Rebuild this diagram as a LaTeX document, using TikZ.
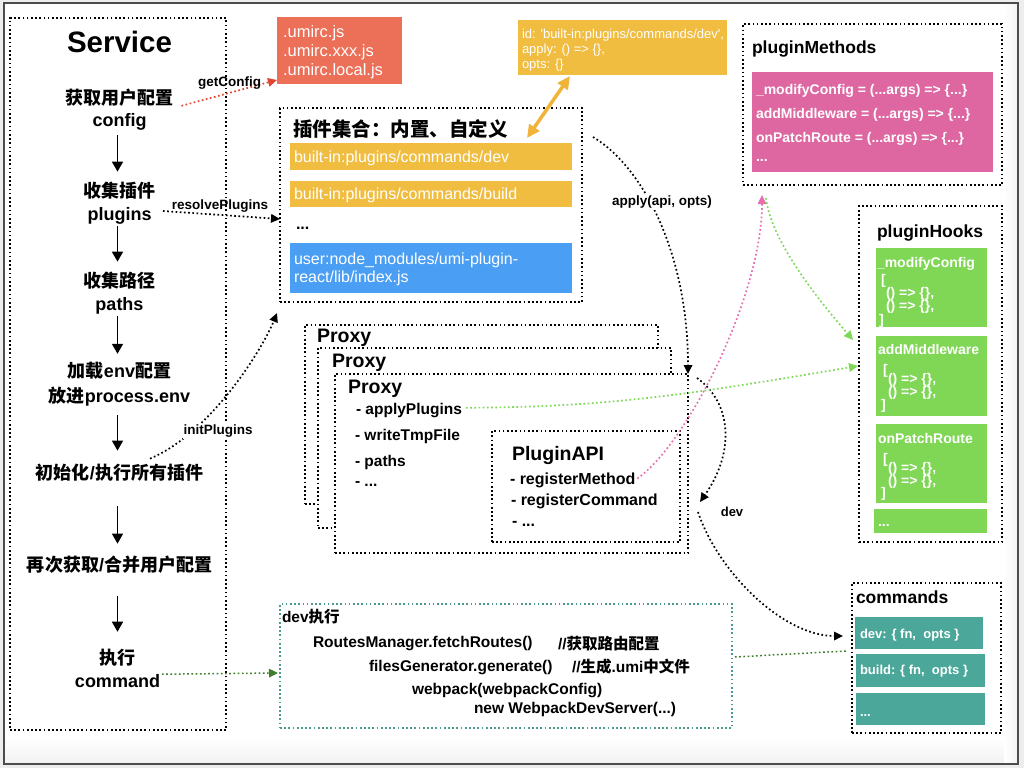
\documentclass[tikz,border=0pt]{standalone}
\usepackage{fontspec}
\setmainfont{Liberation Sans}
\newfontfamily\cjk{Noto Sans CJK SC}
\usetikzlibrary{arrows.meta}
\newcommand{\zh}[1]{{\cjk #1}}
\newcommand{\fsz}[2]{\fontsize{#1pt}{#2pt}\selectfont}
\definecolor{cRed}{HTML}{EC6F58}
\definecolor{cRedLine}{HTML}{E2452F}
\definecolor{cYel}{HTML}{F0BD40}
\definecolor{cYelLine}{HTML}{F0B43A}
\definecolor{cBlue}{HTML}{4A9FF4}
\definecolor{cPink}{HTML}{DE67A2}
\definecolor{cPinkLine}{HTML}{E86FAF}
\definecolor{cGreen}{HTML}{80D655}
\definecolor{cGreenLine}{HTML}{7ED957}
\definecolor{cTeal}{HTML}{4BA79A}
\definecolor{cTealLine}{HTML}{4A9A90}
\definecolor{cDkGreen}{HTML}{3F7D2C}
\begin{document}
\begin{tikzpicture}[x=1pt,y=-1pt,
  every node/.style={inner sep=0pt,outer sep=0pt},
  dotline/.style={line width=1.7pt,dash pattern=on 1.7pt off 2.5pt},
  dotbox/.style={draw,dotline,anchor=north west},
  fillbox/.style={anchor=north west,draw=none},
  arrtip/.style={-{Triangle[length=9pt,width=8.5pt]}},
  flow/.style={line width=1.6pt,-{Triangle[length=10pt,width=11pt]}},
  lbl/.style={anchor=mid,yshift=-3pt,font=\bfseries\fsz{18}{21}},
  tx/.style={anchor=mid west,yshift=-3pt},
  wt/.style={anchor=mid west,yshift=-3pt,text=white},
  conlbl/.style={anchor=mid,yshift=-3pt,font=\bfseries\fsz{13.5}{16}},
  hookfont/.style={wt,font=\bfseries\fsz{14}{16}},
  cmdfont/.style={wt,font=\bfseries\fsz{13}{15}},
  methfont/.style={wt,font=\bfseries\fsz{14}{16}},
  proxyfont/.style={tx,font=\bfseries\fsz{19.5}{22}},
  pitem/.style={tx,font=\bfseries\fsz{15.5}{18}},
  devfont/.style={tx,font=\bfseries\fsz{15.5}{18}},
  ttl/.style={tx,font=\bfseries\fsz{17.5}{20}},
]
\useasboundingbox (0,0) rectangle (1024,768);
% window background
\fill[gray!14] (0,0) rectangle (1024,768);
\fill[white] (4,3) rectangle (1018,764);
\shade[top color=white,bottom color=gray!10] (5,738) rectangle (1017,763);
\shade[left color=white,right color=gray!10] (1004,4) rectangle (1017,763);
\draw[gray!60!black,line width=1.2pt] (4,3) rectangle (1018,764);

% ---------------- Service column
\node[dotbox,minimum width=216,minimum height=712] (service) at (10,18) {};
\node[anchor=mid,font=\bfseries\fsz{29.5}{30}] (svcT) at (119.5,50) {Service};
\node[lbl] (cfgA) at (119.5,99) {\zh{获取用户配置}};
\node[lbl] (cfgB) at (119.5,120.5) {config};
\node[lbl] (plgA) at (119.5,191.5) {\zh{收集插件}};
\node[lbl] (plgB) at (119.5,214.5) {plugins};
\node[lbl] (pthA) at (119.5,281.5) {\zh{收集路径}};
\node[lbl] (pthB) at (119.5,304.5) {paths};
\node[lbl] (envA) at (119.5,371.5) {\zh{加载}env\zh{配置}};
\node[lbl] (envB) at (119.5,396.4) {\zh{放进}process.env};
\node[lbl] (init) at (119.5,473.5) {\zh{初始化}/\zh{执行所有插件}};
\node[lbl] (again) at (119.5,565.5) {\zh{再次获取}/\zh{合并用户配置}};
\node[lbl] (execA) at (117.5,659) {\zh{执行}};
\node[lbl] (execB) at (117.5,681.5) {command};

\draw[flow] ([yshift=-5pt]cfgB.south -| 117.5,0) -- ([yshift=10pt]plgA.north -| 117.5,0);
\draw[flow] ([yshift=-2pt]plgB.south -| 117.5,0) -- ([yshift=10pt]pthA.north -| 117.5,0);
\draw[flow] ([yshift=-2pt]pthB.south -| 117.5,0) -- ([yshift=8pt]envA.north -| 117.5,0);
\draw[flow] ([yshift=-9pt]envB.south -| 117.5,0) -- ([yshift=13pt]init.north -| 117.5,0);
\draw[flow] ([yshift=-25pt]init.south -| 117.5,0) -- ([yshift=12pt]again.north -| 117.5,0);
\draw[flow] ([yshift=-22.5pt]again.south -| 117.5,0) -- ([yshift=17.5pt]execA.north -| 117.5,0);

% ---------------- umirc
\node[fillbox,fill=cRed,minimum width=125,minimum height=67] (umirc) at (277,17) {};
\node[wt,font=\fsz{16.5}{18}] (u1) at (283,32) {.umirc.js};
\node[wt,font=\fsz{16.5}{18}] (u2) at (283,50.5) {.umirc.xxx.js};
\node[wt,font=\fsz{16.5}{18}] (u3) at (283,70) {.umirc.local.js};

% ---------------- plugin object
\node[fillbox,fill=cYel,minimum width=209,minimum height=55] (idbox) at (518,20) {};
\node[wt,font=\fsz{13}{15}] (id1) at (522,33) {id: \textquotesingle built-in:plugins/commands/dev\textquotesingle,};
\node[wt,font=\fsz{13}{15}] (id2) at (522,47.5) {apply: () => \{\},};
\node[wt,font=\fsz{13}{15}] (id3) at (522,63) {opts: \{\}};

% ---------------- plugin set
\node[dotbox,minimum width=302,minimum height=194] (plugset) at (280,108) {};
\node[tx,font=\bfseries\fsz{19.5}{22}] (psT) at (293,131) {\zh{插件集合：内置、自定义}};
\node[fillbox,fill=cYel,minimum width=282,minimum height=27] (bdev) at (290,143) {};
\node[wt,font=\fsz{16}{18}] (bdevT) at (294,157) {built-in:plugins/commands/dev};
\node[fillbox,fill=cYel,minimum width=282,minimum height=26] (bbuild) at (290,181) {};
\node[wt,font=\fsz{16}{18}] (bbuildT) at (294,194) {built-in:plugins/commands/build};
\node[tx,font=\bfseries\fsz{16}{18}] (pdots) at (296,224) {...};
\node[fillbox,fill=cBlue,minimum width=282,minimum height=50] (buser) at (290,243) {};
\node[wt,font=\fsz{16}{18}] (buserA) at (294,259) {user:node\_modules/umi-plugin-};
\node[wt,font=\fsz{16}{18}] (buserB) at (294,277) {react/lib/index.js};

% ---------------- proxies
\node[dotbox,fill=white,minimum width=353,minimum height=179] (proxyA) at (305,325) {};
\node[proxyfont] (pxA) at (317,337) {Proxy};
\node[dotbox,fill=white,minimum width=353,minimum height=180] (proxyB) at (318,348) {};
\node[proxyfont] (pxB) at (332,361.5) {Proxy};
\node[dotbox,fill=white,minimum width=353,minimum height=179] (proxyC) at (335,374) {};
\node[proxyfont] (pxC) at (348,387.5) {Proxy};
\node[pitem] (applyP) at (356,409) {- applyPlugins};
\node[pitem] (writeT) at (355,435) {- writeTmpFile};
\node[pitem] (pathsI) at (355,460.5) {- paths};
\node[pitem] (moreI) at (355,481) {- ...};

\node[dotbox,minimum width=188,minimum height=111] (papi) at (492,431) {};
\node[proxyfont] (papiT) at (512,455) {PluginAPI};
\node[tx,font=\bfseries\fsz{16}{18}] (rmeth) at (510,478.5) {- registerMethod};
\node[tx,font=\bfseries\fsz{16}{18}] (rcmd) at (511,500) {- registerCommand};
\node[tx,font=\bfseries\fsz{16}{18}] (rmore) at (512,521) {- ...};

% ---------------- pluginMethods
\node[dotbox,minimum width=259,minimum height=161] (pmeth) at (743,24) {};
\node[ttl] (pmT) at (752,48) {pluginMethods};
\node[fillbox,fill=cPink,minimum width=241,minimum height=100] (pmBox) at (752,72) {};
\node[methfont] (pm1) at (756,88.5) {\_modifyConfig = (...args) => \{...\}};
\node[methfont] (pm2) at (756,113) {addMiddleware = (...args) => \{...\}};
\node[methfont] (pm3) at (756,137) {onPatchRoute = (...args) => \{...\}};
\node[methfont] (pm4) at (756,156) {...};

% ---------------- pluginHooks
\node[dotbox,minimum width=143,minimum height=336] (phooks) at (859,206) {};
\node[ttl] (phT) at (877,232) {pluginHooks};
\node[fillbox,fill=cGreen,minimum width=111,minimum height=79] (hk1) at (876,248) {};
\node[hookfont] (hk1t) at (877,262) {\_modifyConfig};
\node[hookfont] (hk1a) at (881,279) {[};
\node[hookfont] (hk1b) at (886,291.5) {() => \{\},};
\node[hookfont] (hk1c) at (886,305) {() => \{\},};
\node[hookfont] (hk1d) at (879,318.5) {]};
\node[fillbox,fill=cGreen,minimum width=111,minimum height=80] (hk2) at (876,336) {};
\node[hookfont] (hk2t) at (878,349) {addMiddleware};
\node[hookfont] (hk2a) at (883,369) {[};
\node[hookfont] (hk2b) at (888,378) {() => \{\},};
\node[hookfont] (hk2c) at (888,391) {() => \{\},};
\node[hookfont] (hk2d) at (881,404) {]};
\node[fillbox,fill=cGreen,minimum width=111,minimum height=79] (hk3) at (876,424) {};
\node[hookfont] (hk3t) at (878,437.5) {onPatchRoute};
\node[hookfont] (hk3a) at (883,457.5) {[};
\node[hookfont] (hk3b) at (888,466.5) {() => \{\},};
\node[hookfont] (hk3c) at (888,479.5) {() => \{\},};
\node[hookfont] (hk3d) at (881,492) {]};
\node[fillbox,fill=cGreen,minimum width=113,minimum height=24] (hk4) at (874,509) {};
\node[hookfont] (hk4t) at (878,521) {...};

% ---------------- commands
\node[dotbox,minimum width=149,minimum height=150] (cmds) at (852,583) {};
\node[ttl] (cmT) at (856,598) {commands};
\node[fillbox,fill=cTeal,minimum width=128,minimum height=32] (cdev) at (855,617) {};
\node[cmdfont] (cdevT) at (860,633) {dev: \{ fn,\ \ opts \}};
\node[fillbox,fill=cTeal,minimum width=129,minimum height=33] (cbuild) at (856,654) {};
\node[cmdfont] (cbuildT) at (860,669) {build: \{ fn,\ \ opts \}};
\node[fillbox,fill=cTeal,minimum width=129,minimum height=32] (cmore) at (856,693) {};
\node[cmdfont] (cmoreT) at (860,711) {...};

% ---------------- dev box
\node[dotbox,draw=cTealLine,minimum width=452,minimum height=124] (devbox) at (280,604) {};
\node[devfont] (devT) at (282,616.5) {dev\zh{执行}};
\node[devfont] (dl1) at (313,641.5) {RoutesManager.fetchRoutes()};
\node[devfont] (dl1c) at (558,643.5) {//\zh{获取路由配置}};
\node[devfont] (dl2) at (369,666) {filesGenerator.generate()};
\node[devfont] (dl2c) at (572,667) {//\zh{生成}.umi\zh{中文件}};
\node[devfont] (dl3) at (412,689) {webpack(webpackConfig)};
\node[devfont] (dl4) at (474,708) {new WebpackDevServer(...)};

% ---------------- connectors
\draw[dotline,draw=cRedLine,-{Triangle[length=9pt,width=8.5pt,fill=cRedLine]},color=cRedLine]
  ([shift={(8pt,-8pt)}]cfgA.east) -- ([yshift=4pt]umirc.south west);
\node[conlbl] (gcL) at (229.5,80.5) {getConfig};

\draw[dotline,arrtip] ([shift={(11.5pt,4.5pt)}]plgB.east) -- ([yshift=-14pt]plugset.west);
\node[conlbl] (rpL) at (220,204) {resolvePlugins};

\draw[dotline,arrtip] ([shift={(30.5pt,5pt)}]init.north) .. controls +(60,-25) and +(-15,37) .. ([shift={(-3pt,-11pt)}]plugset.south west);
\node[conlbl,fill=white,inner sep=1pt] (ipL) at (218,429) {initPlugins};

\draw[line width=3.5pt,cYelLine,{Triangle[length=13pt,width=12pt]}-{Triangle[length=13pt,width=12pt]}]
  ([shift={(-52.5pt,-1pt)}]idbox.south) -- ([shift={(247pt,-30pt)}]plugset.north west);

\draw[dotline,arrtip] ([shift={(11pt,-29pt)}]plugset.north east) .. controls +(50,30) and +(0,-121) .. (proxyC.north east);
\node[conlbl,fill=white,inner sep=2pt] (apL) at (662,200) {apply(api, opts)};

\draw[dotline,arrtip] ([shift={(9pt,-4pt)}]proxyC.north east) .. controls +(35,25) and +(35,-50) .. ([shift={(12pt,-38.5pt)}]proxyC.east);
\draw[dotline,arrtip] ([shift={(10pt,-48.5pt)}]proxyC.east) .. controls +(20,60) and +(-60,0) .. ([shift={(-9pt,-53pt)}]cmds.north west);
\node[conlbl,font=\bfseries\fsz{13}{15}] (devL) at (732,511) {dev};

\draw[dotline,draw=cPinkLine,-{Triangle[length=9pt,width=8.5pt,fill=cPinkLine]},color=cPinkLine]
  ([shift={(2pt,1.5pt)}]rmeth.east) .. controls +(50,-35) and +(0,100) .. ([shift={(19pt,-10pt)}]pmeth.south west);
\draw[dotline,draw=cGreenLine,-{Triangle[length=9pt,width=8.5pt,fill=cGreenLine]},color=cGreenLine]
  ([shift={(23pt,-13pt)}]pmeth.south west) .. controls +(5,45) and +(-30,-35) .. ([shift={(-6pt,-134pt)}]phooks.north west);
\draw[dotline,draw=cGreenLine,-{Triangle[length=9pt,width=8.5pt,fill=cGreenLine]},color=cGreenLine]
  ([shift={(4pt,3pt)}]applyP.east) .. controls +(150,0) and +(-150,25) .. ([shift={(-1pt,-160pt)}]phooks.north west);

\draw[dotline,line width=1.5pt,draw=cDkGreen,-{Triangle[length=9pt,width=8.5pt,fill=cDkGreen]},color=cDkGreen]
  ([shift={(2pt,6.5pt)}]execB.east) -- ([shift={(-2pt,-7pt)}]devbox.west);
\draw[dotline,line width=1.5pt,draw=cDkGreen]
  ([shift={(3pt,9pt)}]devbox.east) -- ([shift={(-6pt,7pt)}]cmds.west);
\end{tikzpicture}
\end{document}
